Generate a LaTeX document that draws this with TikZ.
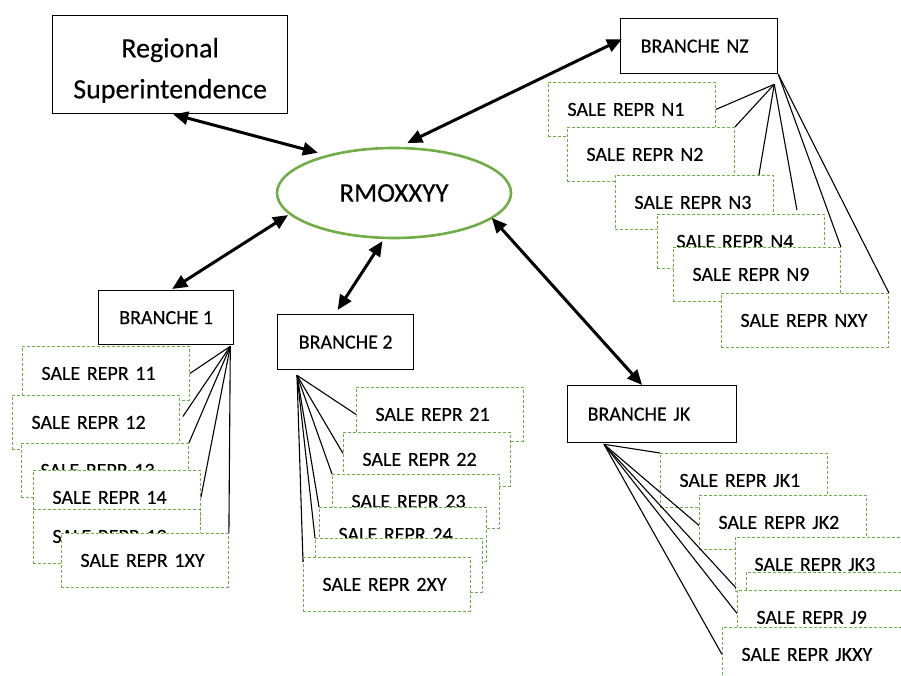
\documentclass[tikz,border=0pt]{standalone}
\usepackage{fontspec}
\setmainfont{Carlito}[FakeBold=0.3]
\usetikzlibrary{arrows.meta,shapes.geometric,calc}
\definecolor{ogreen}{RGB}{112,173,71}
\begin{document}
\begin{tikzpicture}[x=1pt,y=-1pt,
  fnt/.style={font=\fontsize{20}{24}\selectfont},
  box/.style={draw=black,line width=1.3pt,fill=white,anchor=north west,inner ysep=0pt,fnt},
  cbox/.style 2 args={box,minimum width=#1,minimum height=#2,inner xsep=0pt,align=center},
  lbox/.style 2 args={box,text width=#1,minimum height=#2,inner xsep=20pt,align=left},
  sale/.style={draw=ogreen,dash pattern=on 3pt off 2pt,line width=0.9pt,fill=white,anchor=north west,
    minimum height=54pt,text width=#1,inner xsep=19pt,inner ysep=0pt,align=left,fnt},
  sale/.default=129pt,
  arr/.style={line width=3pt,{Triangle[length=15pt,width=13pt]}-{Triangle[length=15pt,width=13pt]}},
  con/.style={line width=1.1pt,black}
]
\useasboundingbox (0,0) rectangle (901,676);

% top level
\node[box,minimum width=235pt,minimum height=98pt,inner xsep=0pt,align=center,
  font=\fontsize{28}{41}\selectfont] (reg) at (52,15) {\rule{0pt}{31pt}Regional\\Superintendence};
\node[ellipse,draw=ogreen,line width=2.6pt,minimum width=234pt,minimum height=90pt,inner sep=0pt,
  font=\fontsize{27}{31}\selectfont] (rmo) at (394,193) {RMOXXYY};

% branches
\node[cbox={135pt}{54pt}] (b1) at (98,290) {BRANCHE 1};
\node[cbox={136pt}{55pt}] (b2) at (277,314) {BRANCHE 2};
\node[lbox={129pt}{57pt}] (bjk) at (567,385) {BRANCHE JK};
\node[lbox={117pt}{55pt}] (bnz) at (620,18) {BRANCHE NZ};

% branch 1 sales
\node[sale] (s11) at (22,346) {SALE REPR 11};
\node[sale] (s12) at (12,395) {SALE REPR 12};
\node[sale] (s13) at (21,443) {SALE REPR 13};
\node[sale] (s14) at (33,470) {SALE REPR 14};
\node[sale] (s19) at (33,509) {SALE REPR 19};
\node[sale] (s1xy) at (61,533) {SALE REPR 1XY};

% branch 2 sales
\node[sale] (s21) at (356,387) {SALE REPR 21};
\node[sale] (s22) at (343,432) {SALE REPR 22};
\node[sale] (s23) at (332,474) {SALE REPR 23};
\node[sale] (s24) at (319,507) {SALE REPR 24};
\node[sale] (s29) at (315,538) {SALE REPR 29};
\node[sale] (s2xy) at (303,557) {SALE REPR 2XY};

% branch JK sales
\node[sale] (jk1) at (660,453) {SALE REPR JK1};
\node[sale] (jk2) at (699,495) {SALE REPR JK2};
\node[sale=150pt] (jk3) at (735,537) {SALE REPR JK3};
\node[sale=150pt] (jk4) at (746,572) {SALE REPR JK4};
\node[sale=150pt] (j9) at (737,590) {SALE REPR J9};
\node[sale=150pt] (jkxy) at (722,627) {SALE REPR JKXY};

% branch NZ sales
\node[sale] (n1) at (548,82) {SALE REPR N1};
\node[sale] (n2) at (567,127) {SALE REPR N2};
\node[sale=120pt] (n3) at (615,175) {SALE REPR N3};
\node[sale] (n4) at (657,214) {SALE REPR N4};
\node[sale] (n9) at (673,247) {SALE REPR N9};
\node[sale] (nxy) at (721,293) {SALE REPR NXY};

% connectors origins
\coordinate (b1o) at ($(b1.south east)+(-4,1)$);
\coordinate (b2o) at ($(b2.south west)+(20,5)$);
\coordinate (bjko) at ($(bjk.south west)+(37,1)$);
\coordinate (bnzo) at ($(bnz.south east)+(-4,10)$);

\draw[con] (b1o) -- (s11.east);
\draw[con] (b1o) -- ($(s12.east)+(3,-6)$);
\draw[con] (b1o) -- (s13.north east);
\draw[con] (b1o) -- (s14.east);
\draw[con] (b1o) -- (s1xy.north east);

\draw[con] (b2o) -- (s21.west);
\draw[con] (b2o) -- ($(s22.west)+(0,-6)$);
\draw[con] (b2o) -- (s23.north west);
\draw[con] (b2o) -- (s24.north west);
\draw[con] (b2o) -- (s29.north west);
\draw[con] (b2o) -- ($(s2xy.north west)+(0,5)$);

\draw[con] (bjko) -- (jk1.north west);
\draw[con] (bjko) -- ($(jk2.west)+(0,3)$);
\draw[con] (bjko) -- ($(jk3.south west)+(1,-4)$);
\draw[con] (bjko) -- ($(j9.west)+(0,-4)$);
\draw[con] (bjko) -- (jkxy.west);

\draw[con] (bnzo) -- (n1.east);
\draw[con] (bnzo) -- (n2.north east);
\draw[con] (bnzo) -- ($(n3.north east)+(-15,0)$);
\draw[con] (bnzo) -- ($(n4.north east)+(-28,-4)$);
\draw[con] (bnz.south east) -- (n9.north east);
\draw[con] (bnz.south east) -- (nxy.north east);

% arrows
\draw[arr] ($(reg.south)+(3,0)$) -- ($(rmo.152)+(-6,-3)$);
\draw[arr] ($(rmo.75)+(1,-4)$) -- ($(bnz.west)+(2,-7)$);
\draw[arr] ($(rmo.192)+(-2,0)$) -- ($(b1.north)+(6,-1)$);
\draw[arr] ($(rmo.256)+(0,2)$) -- ($(b2.north)+(-8,-4)$);
\draw[arr] ($(rmo.346)+(-2,0)$) -- ($(bjk.north)+(-10,0)$);
\end{tikzpicture}
\end{document}
